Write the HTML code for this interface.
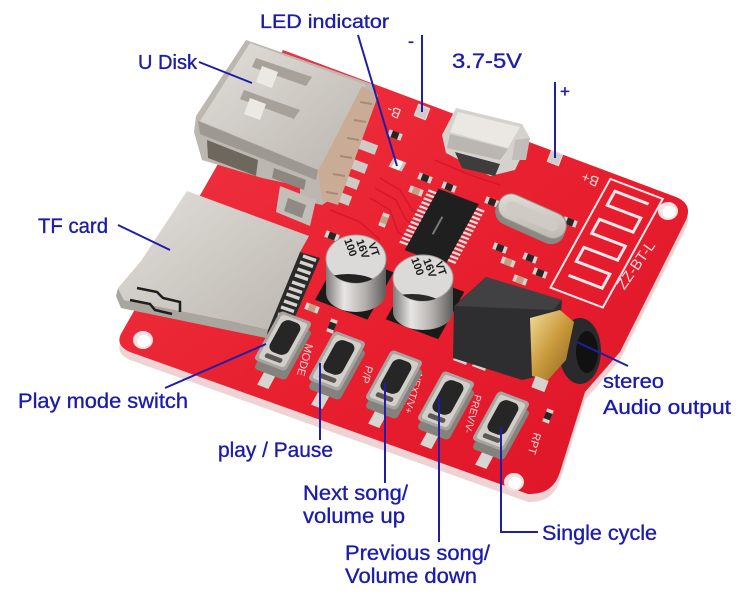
<!DOCTYPE html>
<html><head><meta charset="utf-8">
<style>
html,body{margin:0;padding:0;background:#fff;width:750px;height:606px;overflow:hidden}
svg{display:block}
.t{font-family:"Liberation Sans","DejaVu Sans",sans-serif;fill:#1c1caa;stroke:#1c1caa;stroke-width:0.35}
.s{font-family:"Liberation Sans","DejaVu Sans",sans-serif;fill:#f8dadd}
.k{font-family:"Liberation Sans","DejaVu Sans",sans-serif;fill:#1a1a1a;font-weight:bold}
</style></head><body>
<svg width="750" height="606" viewBox="0 0 750 606" xmlns="http://www.w3.org/2000/svg">
<defs>
<linearGradient id="red" x1="0" y1="0" x2="1" y2="1"><stop offset="0" stop-color="#f23846"/><stop offset=".5" stop-color="#e8202f"/><stop offset="1" stop-color="#dc1428"/></linearGradient>
<linearGradient id="sil" x1="0" y1="0" x2="1" y2="1"><stop offset="0" stop-color="#e2ded9"/><stop offset="1" stop-color="#bbb6b0"/></linearGradient>
<linearGradient id="cap" x1="0" y1="0" x2="1" y2="0"><stop offset="0" stop-color="#7d7b79"/><stop offset=".3" stop-color="#e8e6e4"/><stop offset=".65" stop-color="#b3b0ad"/><stop offset="1" stop-color="#5f5d5b"/></linearGradient>
<linearGradient id="gold" x1="0" y1="0" x2="1" y2="1"><stop offset="0" stop-color="#f2dc9a"/><stop offset=".5" stop-color="#c99a3c"/><stop offset="1" stop-color="#8a6420"/></linearGradient>
<clipPath id="c1"><ellipse cx="356" cy="259" rx="30" ry="24"/></clipPath>
<clipPath id="c2"><ellipse cx="423" cy="278" rx="30" ry="23"/></clipPath>
<g id="res"><rect x="-7" y="-3.5" width="14" height="7" fill="#d6d2ce"/><rect x="-3.5" y="-3.5" width="7" height="7" fill="#2a2424"/></g>
<g id="cer"><rect x="-7" y="-3.5" width="14" height="7" fill="#d6d2ce"/><rect x="-3.5" y="-3.5" width="7" height="7" fill="#c4a080"/></g>
<g id="btn">
 <rect x="-6" y="26" width="12" height="16" fill="#d8d4d0" transform="translate(4.4,8.5)"/>
 <rect x="-17" y="-28" width="34" height="56" rx="4" fill="#85817d" transform="translate(4.4,8.5)"/>
 <rect x="-17" y="-28" width="34" height="56" rx="4" fill="#a8a4a0"/>
 <rect x="-14" y="-25" width="28" height="50" rx="3" fill="#d2cfcb"/>
 <rect x="-10" y="-22" width="20" height="36" rx="7" fill="#262626"/>
 <rect x="-9" y="17" width="18" height="5" rx="2" fill="#5a5755"/>
</g>
</defs>

<!-- board thickness + board -->
<path d="M283,50 L676,197 Q693,204 686,220 L620,352 L585,392 L560,472 Q553,495 528,494 L130,352 Q114,345 122,332 Z" transform="translate(0,8)" fill="#eed3d5"/>
<path d="M283,50 L676,197 Q693,204 686,220 L620,352 L585,392 L560,472 Q553,495 528,494 L130,352 Q114,345 122,332 Z" fill="url(#red)"/>

<!-- holes -->
<ellipse cx="143" cy="340" rx="10" ry="9" fill="#f2e2e2"/><ellipse cx="144" cy="341" rx="6.5" ry="6" fill="#fff"/>
<ellipse cx="514" cy="482" rx="10" ry="9" fill="#f2e2e2"/><ellipse cx="515" cy="483" rx="6.5" ry="6" fill="#fff"/>
<ellipse cx="668" cy="211" rx="10" ry="9" fill="#f2e2e2"/><ellipse cx="669" cy="212" rx="6.5" ry="6" fill="#fff"/>

<!-- traces -->
<g fill="none" stroke="#c50f25" stroke-width="1.5" opacity=".55">
<path d="M380,178 L400,190 L412,210 L430,220"/>
<path d="M375,188 L396,200 L406,220 L424,232"/>
<path d="M370,198 L390,210 L398,232 L416,244"/>
<path d="M435,160 L470,175 L500,185"/>
<path d="M330,210 L360,222 L380,240"/>
</g>

<!-- local board group -->
<g transform="matrix(0.9356,0.3563,-0.4834,0.8761,283,50)">
 <rect x="352" y="4" width="56" height="124" fill="none" stroke="#fce8ea" stroke-width="2"/>
 <path d="M398,14 H362 V30 H398 V46 H362 V62 H398 V78 H362 V94 H398 V110 H362" fill="none" stroke="#fce8ea" stroke-width="3"/>
 <line x1="201" y1="79" x2="201" y2="142" stroke="#dcdcdc" stroke-width="9" stroke-dasharray="2.4 2.1"/>
 <line x1="252" y1="79" x2="252" y2="142" stroke="#dcdcdc" stroke-width="9" stroke-dasharray="2.4 2.1"/>
 <rect x="205" y="75" width="43" height="70" fill="#1f1f1f"/>
 <path d="M222,100 v20" stroke="#777" stroke-width="2"/>
 <rect x="150" y="170" width="56" height="54" fill="#1a1a1a"/>
 <rect x="222" y="163" width="56" height="54" fill="#1a1a1a"/>
 <rect x="150" y="62" width="14" height="10" fill="#c9c3c3"/>
 <rect x="153" y="62" width="8" height="10" fill="#fbf6ee"/>
</g>
<text class="s" font-size="15" transform="translate(640,268) rotate(-55)" text-anchor="middle">ZZ-BT-L</text>
<text class="s" font-size="14" transform="translate(402,110) rotate(201)">B-</text>
<text class="s" font-size="14" transform="translate(600,178) rotate(201)">B+</text>

<!-- pads -->
<rect x="-6" y="-6" width="12" height="12" fill="#d0cccc" stroke="#f6dcdc" transform="translate(422,112) rotate(21)"/>
<rect x="-6" y="-6" width="12" height="12" fill="#d0cccc" stroke="#f6dcdc" transform="translate(555,158) rotate(21)"/>

<!-- SMD parts -->
<use href="#res" transform="translate(395,135) rotate(21)"/>
<use href="#res" transform="translate(425,178) rotate(21)"/>
<use href="#cer" transform="translate(416,191) rotate(21)"/>
<use href="#res" transform="translate(449,187) rotate(21)"/>
<use href="#res" transform="translate(492,202) rotate(21)"/>
<use href="#cer" transform="translate(384,220) rotate(111)"/>
<use href="#res" transform="translate(332,236) rotate(21)"/>
<use href="#res" transform="translate(500,248) rotate(21)"/>
<use href="#cer" transform="translate(508,262) rotate(21)"/>
<use href="#res" transform="translate(530,258) rotate(21)"/>
<use href="#res" transform="translate(540,273) rotate(21)"/>
<use href="#cer" transform="translate(312,308) rotate(21)"/>
<use href="#res" transform="translate(332,326) rotate(111)"/>
<use href="#res" transform="translate(548,416) rotate(111)"/>
<use href="#cer" transform="translate(520,280) rotate(21)"/>
<use href="#res" transform="translate(520,208) rotate(21)"/>
<use href="#res" transform="translate(570,222) rotate(21)"/>
<!-- USB pin pads -->
<rect x="-9" y="-5" width="18" height="10" fill="#cfcac5" transform="translate(368,147) rotate(21)"/>
<rect x="-9" y="-5" width="18" height="10" fill="#cfcac5" transform="translate(358,166) rotate(21)"/>
<rect x="-9" y="-5" width="18" height="10" fill="#cfcac5" transform="translate(350,182) rotate(21)"/>
<rect x="-9" y="-5" width="18" height="10" fill="#cfcac5" transform="translate(342,198) rotate(21)"/>

<!-- micro USB -->
<polygon points="456,108 522,124 530,138 515,170 490,176 446,153 442,135" fill="#d5d1cd"/>
<polygon points="458,112 520,127 508,148 450,132" fill="#ebe8e4"/>
<polygon points="450,134 508,149 500,160 447,148" fill="#bbb6b1"/>
<polygon points="455,152 500,164 495,176 462,168" fill="#3d3d3d"/>
<polygon points="515,140 530,138 526,160 512,160" fill="#c2bdb8"/>

<!-- crystal -->
<g transform="translate(531,219) rotate(24)">
 <rect x="-37" y="-12" width="74" height="28" rx="14" fill="#8b8781"/>
 <rect x="-36" y="-16" width="72" height="26" rx="13" fill="url(#sil)" stroke="#9a958f"/>
 <rect x="-28" y="-9" width="56" height="12" rx="6" fill="#cfcac4"/>
</g>

<!-- USB-A -->
<polygon points="246,40 372,84 378,96 356,150 336,196 322,205 300,200 300,186 262,178 202,160 194,132 196,116" fill="#bcb7b1"/>
<polygon points="250,43 366,85 318,170 200,121" fill="url(#sil)"/>
<polygon points="256,58 312,77 306,86 252,67" fill="#a7a19a"/>
<polygon points="244,90 300,110 294,119 240,99" fill="#a7a19a"/>
<polygon points="262,66 278,72 272,88 256,82" fill="#ece9e5"/>
<polygon points="250,98 266,104 260,120 244,114" fill="#ece9e5"/>
<polygon points="198,121 318,170 316,180 200,134" fill="#9d9892"/>
<polygon points="207,140 258,160 256,176 208,158" fill="#6e675e"/>
<polygon points="274,168 306,180 304,190 272,178" fill="#8e8780"/>
<polygon points="362,86 378,96 338,205 322,200 318,172" fill="#c9ab96"/>
<g stroke="#a88a76" stroke-width="2"><path d="M372,104 l-12,-2"/><path d="M366,122 l-12,-2"/><path d="M359,140 l-12,-2"/><path d="M352,158 l-12,-2"/><path d="M345,176 l-12,-2"/><path d="M338,194 l-12,-2"/></g>
<polygon points="280,186 316,200 310,226 276,212" fill="#c3beb8"/>
<polygon points="288,198 306,205 302,218 284,211" fill="#8f8a84"/>

<!-- TF card -->
<polygon points="300,252 320,258 286,338 266,333" fill="#2a2a2a"/>
<g stroke="#d7d3cf" stroke-width="3.5">
<path d="M303,256 l13,4.5"/><path d="M300,262 l13,4.5"/><path d="M297.5,269 l13,4.5"/><path d="M295,275 l13,4.5"/><path d="M292,282 l13,4.5"/><path d="M289,288 l13,4.5"/><path d="M286.5,294 l13,4.5"/><path d="M284,301 l13,4.5"/><path d="M281,307 l13,4.5"/><path d="M278,314 l13,4.5"/><path d="M275.5,320 l13,4.5"/><path d="M273,326 l13,4.5"/>
</g>
<polygon points="118,288 124,300 234,322 268,330 266,338 232,331 121,308 116,296" fill="#a9a59f"/>
<polygon points="187,191 309,236 300,252 268,330 234,322 124,300 118,288 141,261" fill="url(#sil)"/>
<path d="M137,288 L157,292 L163,298 L180,302 L180,312" stroke="#1e1e1e" stroke-width="2.5" fill="none"/>
<path d="M130,300 L150,304 L155,310 L172,314" stroke="#1e1e1e" stroke-width="2.5" fill="none"/>

<!-- capacitor 1 -->
<rect x="326" y="259" width="60" height="34" fill="url(#cap)"/>
<ellipse cx="356" cy="293" rx="30" ry="19" fill="url(#cap)"/>
<ellipse cx="356" cy="259" rx="30" ry="24" fill="#dcdad8" stroke="#a09e9c"/>
<ellipse cx="348" cy="292" rx="36" ry="18" fill="#222" clip-path="url(#c1)"/>
<text class="k" font-size="11" transform="translate(344,240) rotate(70)">100</text>
<text class="k" font-size="11" transform="translate(356,241) rotate(70)">16V</text>
<text class="k" font-size="11" transform="translate(368,244) rotate(70)">VT</text>

<!-- capacitor 2 -->
<rect x="393" y="278" width="60" height="34" fill="url(#cap)"/>
<ellipse cx="423" cy="312" rx="30" ry="18" fill="url(#cap)"/>
<ellipse cx="423" cy="278" rx="30" ry="23" fill="#dcdad8" stroke="#a09e9c"/>
<ellipse cx="412" cy="310" rx="34" ry="16" fill="#2a2a2a" clip-path="url(#c2)"/>
<text class="k" font-size="11" transform="translate(411,259) rotate(70)">100</text>
<text class="k" font-size="11" transform="translate(423,260) rotate(70)">16V</text>
<text class="k" font-size="11" transform="translate(435,263) rotate(70)">VT</text>

<!-- audio jack -->
<rect x="-7" y="-5" width="14" height="12" fill="#d6d2ce" transform="translate(462,356) rotate(21)"/>
<rect x="-7" y="-5" width="14" height="12" fill="#d6d2ce" transform="translate(481,362) rotate(21)"/>
<polygon points="486,277 562,300 556,372 522,380 453,358 454,306" fill="#2e2e30"/>
<polygon points="486,277 562,300 553,310 455,306" fill="#414144"/>
<ellipse cx="580" cy="351" rx="21" ry="33" fill="#2a2a2c"/>
<ellipse cx="587" cy="352" rx="11" ry="21" fill="#111"/>
<polygon points="530,318 560,310 574,322 566,360 548,380 532,376" fill="url(#gold)"/>
<rect x="-7" y="-6" width="14" height="12" fill="#d6d2ce" transform="translate(540,384) rotate(21)"/>

<!-- silk labels near buttons -->
<text class="s" font-size="11" transform="translate(306,343) rotate(106)">MODE</text>
<text class="s" font-size="11" transform="translate(366,365) rotate(106)">P/P</text>
<text class="s" font-size="10" transform="translate(416,372) rotate(106)">NEXT/V+</text>
<text class="s" font-size="10" transform="translate(475,394) rotate(106)">PREV/V-</text>
<text class="s" font-size="11" transform="translate(534,432) rotate(106)">RPT</text>

<!-- buttons -->
<use href="#btn" transform="translate(283,341) matrix(0.9356,0.3563,-0.4834,0.8761,0,0)"/>
<use href="#btn" transform="translate(337,361) matrix(0.9356,0.3563,-0.4834,0.8761,0,0)"/>
<use href="#btn" transform="translate(394,380) matrix(0.9356,0.3563,-0.4834,0.8761,0,0)"/>
<use href="#btn" transform="translate(446,401) matrix(0.9356,0.3563,-0.4834,0.8761,0,0)"/>
<use href="#btn" transform="translate(501,421) matrix(0.9356,0.3563,-0.4834,0.8761,0,0)"/>

<!-- leader lines -->
<g stroke="#1e1ea6" stroke-width="2" fill="none">
<path d="M199,62 L252,83"/>
<path d="M358,35 L397,166"/>
<path d="M422,35 L422,112"/>
<path d="M555,82 L555,158"/>
<path d="M118,225 L170,250"/>
<path d="M165,388 L266,344"/>
<path d="M320,363 L320,440"/>
<path d="M385,383 L385,483"/>
<path d="M439,397 L439,542"/>
<path d="M501,427 L501,532 L538,532"/>
<path d="M577,342 L628,366"/>
</g>

<!-- labels -->
<text class="t" x="260" y="28" font-size="19" textLength="129" lengthAdjust="spacingAndGlyphs">LED indicator</text>
<text class="t" x="138" y="69" font-size="20" textLength="59" lengthAdjust="spacingAndGlyphs">U Disk</text>
<text class="t" x="452" y="68" font-size="21" textLength="70" lengthAdjust="spacingAndGlyphs">3.7-5V</text>
<text class="t" x="408" y="47" font-size="18">-</text>
<text class="t" x="560" y="97" font-size="17">+</text>
<text class="t" x="38" y="233" font-size="21" textLength="70" lengthAdjust="spacingAndGlyphs">TF card</text>
<text class="t" x="18" y="408" font-size="21" textLength="170" lengthAdjust="spacingAndGlyphs">Play mode switch</text>
<text class="t" x="218" y="457" font-size="21" textLength="115" lengthAdjust="spacingAndGlyphs">play / Pause</text>
<text class="t" x="603" y="388" font-size="20" textLength="61" lengthAdjust="spacingAndGlyphs">stereo</text>
<text class="t" x="603" y="414" font-size="20" textLength="128" lengthAdjust="spacingAndGlyphs">Audio output</text>
<text class="t" x="303" y="500" font-size="21" textLength="105" lengthAdjust="spacingAndGlyphs">Next song/</text>
<text class="t" x="303" y="523" font-size="21" textLength="102" lengthAdjust="spacingAndGlyphs">volume up</text>
<text class="t" x="345" y="560" font-size="21" textLength="145" lengthAdjust="spacingAndGlyphs">Previous song/</text>
<text class="t" x="345" y="583" font-size="21" textLength="132" lengthAdjust="spacingAndGlyphs">Volume down</text>
<text class="t" x="542" y="540" font-size="21" textLength="115" lengthAdjust="spacingAndGlyphs">Single cycle</text>
</svg>
</body></html>
